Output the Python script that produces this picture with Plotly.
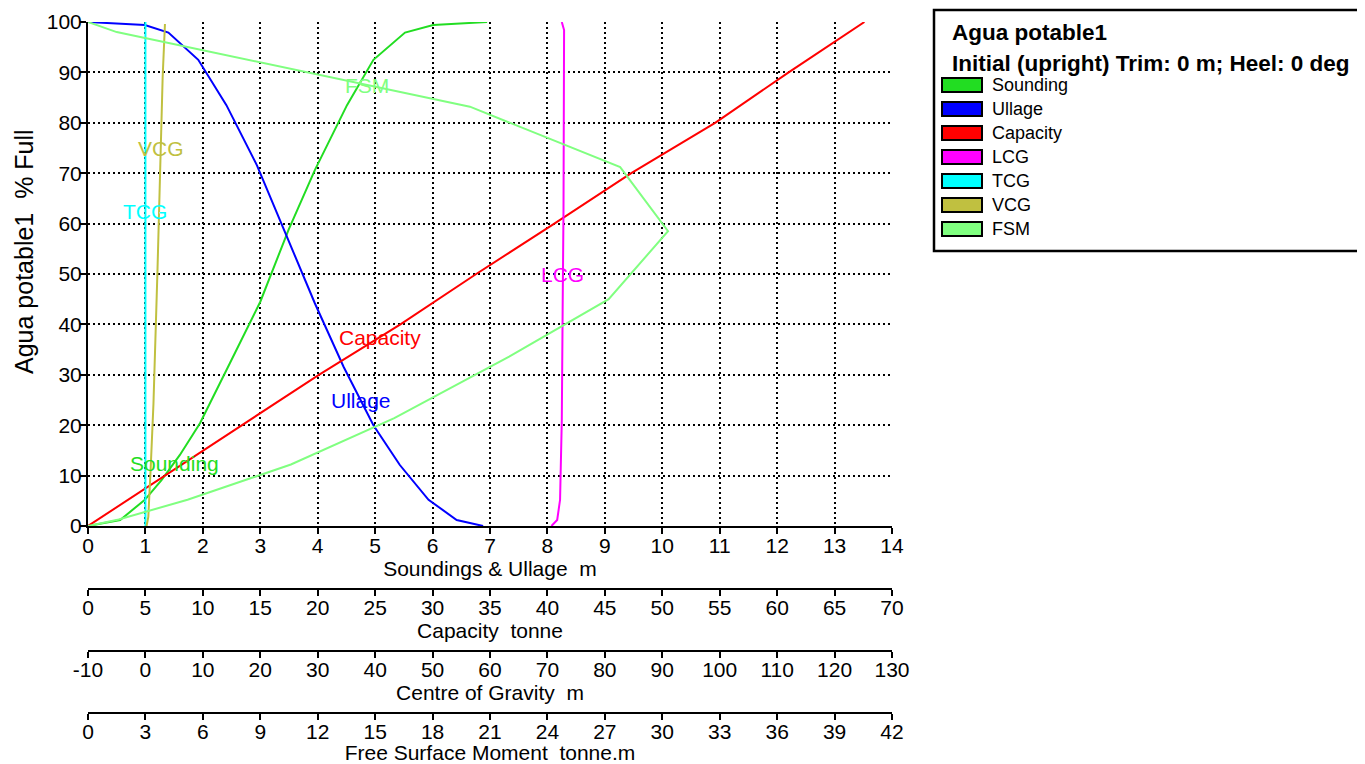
import plotly.graph_objects as go
import numpy as np

# ---------------- data ----------------
sounding_pct = [0, 1.2, 5.2, 9.1, 14.1, 20.4, 32.3, 44.5, 58.7, 70.6, 83.5, 92.5, 97.9, 99.4, 100]
sounding_m = [0, 0.56, 0.99, 1.28, 1.60, 1.95, 2.47, 3.00, 3.49, 3.95, 4.51, 4.97, 5.52, 6.01, 6.95]

ullage_pct = [0, 1.2, 5.2, 12.1, 20.0, 31.6, 44.2, 59.1, 71.6, 83.5, 92.5, 97.9, 99.4, 100]
ullage_m = [6.88, 6.42, 5.93, 5.43, 4.97, 4.45, 3.95, 3.40, 2.94, 2.41, 1.92, 1.40, 0.99, 0]

capacity_pct = [0, 10, 20, 30, 40, 50, 60, 70, 80, 90, 100]
capacity_t = [0, 6.7, 13.5, 20.1, 27.2, 33.8, 40.6, 47.3, 54.6, 61.0, 67.6]

lcg_pct = [0, 1.2, 5.2, 21.0, 43.0, 63.0, 98.4, 100]
lcg_m = [70.7, 71.7, 72.2, 72.5, 72.65, 72.8, 72.9, 72.5]

tcg_pct = [0, 100]
tcg_m = [0, 0]

vcg_pct = [0, 1.8, 11.1, 24.3, 50.8, 69.3, 89.1, 99.6]
vcg_m = [0.2, 0.5, 0.9, 1.4, 2.1, 2.5, 3.0, 3.4]

fsm_pct = [0, 1.3, 5.2, 12.2, 21.4, 33.6, 45.0, 58.5, 71.2, 83.2, 98.0, 100]
fsm_tm = [0, 1.6, 5.2, 10.6, 16.0, 22.0, 27.2, 30.3, 27.8, 19.95, 1.5, 0]

x_sound_ticks = list(range(0, 15, 1))
x_cap_ticks = list(range(0, 71, 5))
x_cog_ticks = list(range(-10, 131, 10))
x_fsm_ticks = list(range(0, 43, 3))

series_names = ["Sounding", "Ullage", "Capacity", "LCG", "TCG", "VCG", "FSM"]
series_colors = ["#22DD22", "#0000FF", "#FF0000", "#FF00FF", "#00FFFF", "#C0C040", "#80FF80"]
label_levels = [12.5, 25.0, 37.5, 50.0, 62.5, 75.0, 87.5]

# ---------------- layout geometry ----------------
# the page body has an 8px margin, so the figure is drawn 8px right/down
OFF = 8
W, H = 1365 - OFF, 764 - OFF
# target plot-area edges in window pixels
L_WIN, R_WIN, T_WIN, B_WIN = 88, 892, 22, 713
PL, PR, PT, PB = L_WIN - OFF, R_WIN - OFF, T_WIN - OFF, B_WIN - OFF
pw, ph = PR - PL, PB - PT


def pxx(px):
    """window pixel x -> paper x"""
    return (px - OFF - PL) / pw


def pxy(py):
    """window pixel y -> paper y"""
    return (PB - (py - OFF)) / ph


FONT = "Liberation Sans, Arial, Helvetica, sans-serif"

series = [
    (sounding_m, sounding_pct, "x"),
    (ullage_m, ullage_pct, "x"),
    (capacity_t, capacity_pct, "x2"),
    (lcg_m, lcg_pct, "x3"),
    (tcg_m, tcg_pct, "x3"),
    (vcg_m, vcg_pct, "x3"),
    (fsm_tm, fsm_pct, "x4"),
]

fig = go.Figure()
for (xv, yv, ax), name, col in zip(series, series_names, series_colors):
    fig.add_trace(go.Scatter(x=xv, y=yv, mode="lines", name=name, xaxis=ax, yaxis="y",
                             line=dict(color=col, width=2), showlegend=False,
                             hoverinfo="skip"))

annotations = []
# curve labels
for (xv, yv, ax), name, col, lvl in zip(series, series_names, series_colors, label_levels):
    order = np.argsort(yv)
    xa = np.interp(lvl, np.array(yv)[order], np.array(xv)[order])
    annotations.append(dict(x=float(xa), y=lvl, xref=ax, yref="y", text=name, showarrow=False,
                            xanchor="center", yanchor="middle",
                            font=dict(family=FONT, size=21, color=col)))

# y axis title
annotations.append(dict(x=pxx(24), y=pxy(252), xref="paper", yref="paper",
                        text="Agua potable1  % Full", textangle=-90, showarrow=False,
                        xanchor="center", yanchor="middle",
                        font=dict(family=FONT, size=25, color="black")))

shapes = []
# legend box
shapes.append(dict(type="rect", xref="paper", yref="paper", x0=pxx(934), x1=pxx(1363),
                   y0=pxy(251), y1=pxy(10), line=dict(color="black", width=2.5),
                   fillcolor="white", layer="below"))
annotations.append(dict(x=pxx(950), y=pxy(32), xref="paper", yref="paper",
                        text="<b>Agua potable1</b>", showarrow=False, xanchor="left", yanchor="middle",
                        font=dict(family=FONT, size=22.5, color="black")))
annotations.append(dict(x=pxx(950), y=pxy(63), xref="paper", yref="paper",
                        text="<b>Initial (upright) Trim: 0 m; Heel: 0 deg</b>", showarrow=False,
                        xanchor="left", yanchor="middle",
                        font=dict(family=FONT, size=22.5, color="black")))
for i, (name, col) in enumerate(zip(series_names, series_colors)):
    cy = 85 + 24 * i
    shapes.append(dict(type="rect", xref="paper", yref="paper", x0=pxx(942), x1=pxx(982),
                       y0=pxy(cy + 7), y1=pxy(cy - 7), fillcolor=col,
                       line=dict(color="black", width=2)))
    annotations.append(dict(x=pxx(990), y=pxy(cy), xref="paper", yref="paper", text=name,
                            showarrow=False, xanchor="left", yanchor="middle",
                            font=dict(family=FONT, size=18, color="black")))

axis_common = dict(showline=True, linecolor="black", linewidth=2, ticks="outside",
                   ticklen=6, tickwidth=2, tickcolor="black", zeroline=False,
                   tickfont=dict(family=FONT, size=21, color="black"),
                   ticklabelstandoff=-6,
                   automargin=False, fixedrange=True)

title_font = dict(family=FONT, size=21, color="black")

fig.update_layout(
    width=W, height=H,
    margin=dict(l=PL, r=W - PR, t=PT, b=H - PB, pad=0),
    paper_bgcolor="white", plot_bgcolor="white",
    showlegend=False,
    xaxis=dict(range=[0, 14], tickvals=x_sound_ticks, domain=[0, 1], anchor="y",
               showgrid=True, gridcolor="black", gridwidth=2, griddash="2px,3px",
               title=dict(text="Soundings & Ullage  m", standoff=2, font=title_font),
               **axis_common),
    xaxis2=dict(range=[0, 70], tickvals=x_cap_ticks, overlaying="x", anchor="free",
                position=pxy(589), showgrid=False,
                title=dict(text="Capacity  tonne", standoff=2, font=title_font),
                **axis_common),
    xaxis3=dict(range=[-10, 130], tickvals=x_cog_ticks,
                ticktext=[str(v) for v in x_cog_ticks], overlaying="x", anchor="free",
                position=pxy(651), showgrid=False,
                title=dict(text="Centre of Gravity  m", standoff=2, font=title_font),
                **axis_common),
    xaxis4=dict(range=[0, 42], tickvals=x_fsm_ticks, overlaying="x", anchor="free",
                position=0, showgrid=False,
                title=dict(text="Free Surface Moment  tonne.m", standoff=2, font=title_font),
                **axis_common),
    yaxis=dict(range=[0, 100], dtick=10, domain=[pxy(526), 1], anchor="x",
               showgrid=True, gridcolor="black", gridwidth=2, griddash="2px,3px",
               **axis_common),
    annotations=annotations,
    shapes=shapes,
)

fig.write_html("out.html")
